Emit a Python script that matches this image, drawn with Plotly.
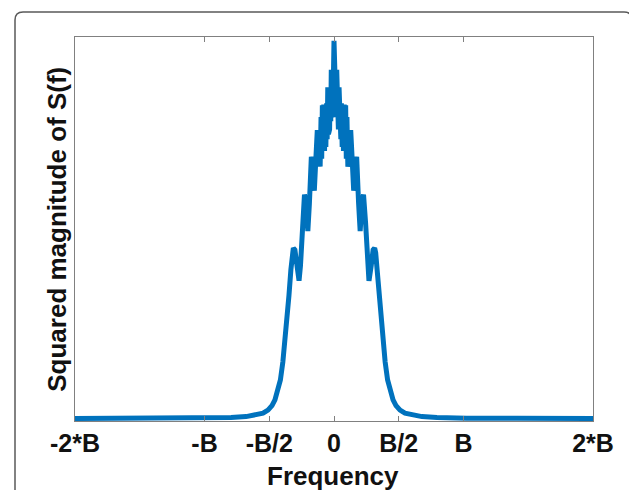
import plotly.graph_objects as go

# Frequency in units of B, magnitude normalised to the peak
freq_left = [-2.0, -1.41, -1.025, -0.795, -0.679, -0.602, -0.548, -0.510, -0.479, -0.456,
             -0.433, -0.414, -0.395, -0.379, -0.364, -0.348, -0.333, -0.322, -0.314, -0.302,
             -0.287, -0.270, -0.259, -0.244, -0.228, -0.217, -0.202, -0.190, -0.175, -0.163,
             -0.152, -0.140, -0.129, -0.117,
             -0.107, -0.100, -0.095, -0.090, -0.084, -0.079, -0.073, -0.068, -0.063, -0.057,
             -0.053, -0.048, -0.043, -0.039, -0.034, -0.029, -0.025, -0.021, -0.017, -0.013,
             -0.009]
mag_left = [0.000, 0.001, 0.001, 0.003, 0.005, 0.009, 0.014, 0.022, 0.034, 0.049,
            0.073, 0.101, 0.148, 0.200, 0.260, 0.322, 0.390, 0.434, 0.447, 0.442,
            0.400, 0.361, 0.400, 0.512, 0.587, 0.569, 0.491, 0.564, 0.686, 0.668,
            0.597, 0.681, 0.756, 0.732,
            0.660, 0.790, 0.681, 0.821, 0.706, 0.823, 0.701, 0.823, 0.712, 0.826,
            0.732, 0.868, 0.745, 0.868, 0.758, 0.868, 0.779, 0.914, 0.790, 0.914,
            0.805]
freq_center = [0.0]
mag_center = [0.990]
freq_right = [0.009, 0.013, 0.017, 0.021, 0.025, 0.029, 0.034, 0.039, 0.043, 0.048,
              0.053, 0.057, 0.063, 0.068, 0.073, 0.079, 0.084, 0.090, 0.095, 0.100,
              0.107,
              0.117, 0.129, 0.140, 0.152, 0.163, 0.175, 0.190, 0.202, 0.217, 0.228,
              0.244, 0.259, 0.270, 0.287, 0.302, 0.314, 0.322, 0.333, 0.348, 0.364,
              0.379, 0.395, 0.414, 0.433, 0.456, 0.479, 0.510, 0.548, 0.602, 0.679,
              0.795, 1.025, 1.41, 2.0]
mag_right = [0.805, 0.914, 0.790, 0.914, 0.779, 0.868, 0.758, 0.868, 0.745, 0.868,
             0.732, 0.826, 0.712, 0.823, 0.701, 0.823, 0.706, 0.821, 0.681, 0.790,
             0.660,
             0.732, 0.756, 0.681, 0.597, 0.668, 0.686, 0.564, 0.491, 0.569, 0.587,
             0.512, 0.400, 0.361, 0.400, 0.442, 0.447, 0.434, 0.390, 0.322, 0.260,
             0.200, 0.148, 0.101, 0.073, 0.049, 0.034, 0.022, 0.014, 0.009, 0.005,
             0.003, 0.001, 0.001, 0.000]

tick_vals = [-2, -1, -0.5, 0, 0.5, 1, 2]
tick_text = ["-2*B", "-B", "-B/2", "0", "B/2", "B", "2*B"]

freq = freq_left + freq_center + freq_right
mag = mag_left + mag_center + mag_right

FONT = "Arial, Liberation Sans, sans-serif"
AXC = "#808080"
TXT = "#111111"

# page body has an 8px margin; work in screenshot pixels and shift
OFF = 8
W, H = 637 - OFF, 490 - OFF
L, R, T, Bt = 75 - OFF, 593 - OFF, 37 - OFF, 421.5 - OFF
pw, ph = R - L, Bt - T

def px(xp):
    return (xp - OFF - L) / pw

def py(yp):
    return (Bt - (yp - OFF)) / ph

fig = go.Figure()
fig.add_trace(go.Scatter(x=freq, y=mag, mode="lines",
                         line=dict(color="#0072BD", width=5), hoverinfo="skip"))

frame = (f"M {px(15)},{py(510)} L {px(15)},{py(20)} Q {px(15)},{py(12)} {px(23)},{py(12)} "
         f"L {px(624)},{py(12)} Q {px(632)},{py(12)} {px(632)},{py(20)} L {px(632)},{py(510)}")

fig.update_layout(
    width=W, height=H,
    margin=dict(l=L, r=W - R, t=T, b=H - Bt),
    paper_bgcolor="white", plot_bgcolor="white",
    showlegend=False,
    font=dict(family=FONT, size=25, color=TXT),
    xaxis=dict(range=[-2, 2], tickvals=tick_vals, ticktext=tick_text,
               ticks="inside", ticklen=5, tickwidth=1, tickcolor=AXC,
               showline=True, linecolor=AXC, linewidth=1, mirror="ticks",
               showgrid=False, zeroline=False,
               tickfont=dict(family=FONT, size=25, color=TXT, weight="bold")),
    yaxis=dict(range=[-0.0065, 1], showticklabels=False, ticks="",
               showline=True, linecolor=AXC, linewidth=1, mirror=True,
               showgrid=False, zeroline=False),
    shapes=[dict(type="path", xref="paper", yref="paper", path=frame,
                 line=dict(color="#5a5a5a", width=1.5), layer="above")],
    annotations=[
        dict(text="Frequency", xref="paper", yref="paper", x=px(333), y=py(477),
             xanchor="center", yanchor="middle", showarrow=False,
             font=dict(family=FONT, size=26, color=TXT, weight="bold")),
        dict(text="Squared magnitude of S(f)", xref="paper", yref="paper",
             x=px(57), y=py(230), xanchor="center", yanchor="middle",
             textangle=-90, showarrow=False,
             font=dict(family=FONT, size=26, color=TXT, weight="bold")),
    ],
)

fig.write_html("out.html")
